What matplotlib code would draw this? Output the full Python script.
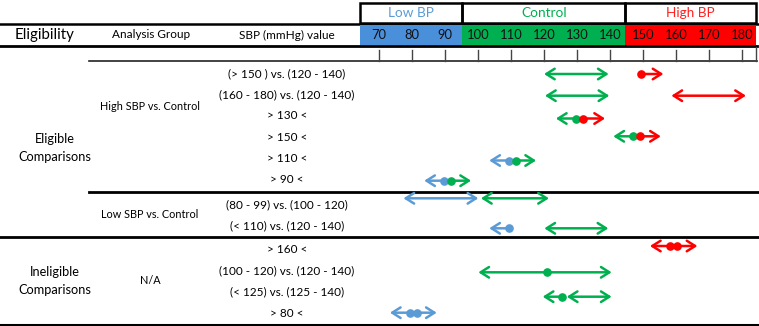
import matplotlib
matplotlib.use("Agg")
import matplotlib.pyplot as plt

plt.rcParams['font.family'] = ['Lato', 'DejaVu Sans']

# ---------------- data ----------------
tick_values = [70, 80, 90, 100, 110, 120, 130, 140, 150, 160, 170, 180]
band_names = ["Low BP", "Control", "High BP"]
band_ranges = [(64.2, 95.3), (95.3, 144.6), (144.6, 184.3)]

row_labels = ["(> 150 ) vs. (120 - 140)", "(160 - 180) vs. (120 - 140)", "> 130 <", "> 150 <",
              "> 110 <", "> 90 <", "(80 - 99) vs. (100 - 120)", "(< 110) vs. (120 - 140)",
              "> 160 <", "(100 - 120) vs. (120 - 140)", "(< 125) vs. (125 - 140)", "> 80 <"]
group_labels = ["High SBP vs. Control", "Low SBP vs. Control", "N/A"]
eligibility_labels = ["Eligible\nComparisons", "Ineligible\nComparisons"]

# segments: row, colour key, left, right, style ('both' / 'left' head only / 'right' head only)
seg_row = [0, 0, 1, 1, 2, 2, 3, 3, 4, 4, 5, 5, 6, 6, 7, 7, 8, 8, 9, 9, 10, 10, 11, 11]
seg_col = ['g', 'r', 'g', 'r', 'g', 'r', 'g', 'r', 'b', 'g', 'b', 'g', 'b', 'g', 'b', 'g',
           'r', 'r', 'g', 'g', 'g', 'g', 'b', 'b']
seg_left = [120, 150, 120.3, 158.6, 123.6, 131.7, 141.0, 149.1, 103.4, 111.4, 83.7, 91.8,
            77.4, 100.9, 103.4, 120.1, 152.1, 160.2, 100.1, 120.8, 119.6, 126.9, 73.3, 81.4]
seg_right = [139.6, 156.2, 139.8, 181.2, 129.7, 138.5, 147.1, 155.4, 109.4, 117.6, 89.8, 97.9,
             100.1, 121.5, 109.5, 139.5, 158.2, 166.5, 120.8, 140.5, 125.4, 140.5, 79.4, 87.5]
seg_style = ['both', 'right', 'both', 'both', 'left', 'right', 'left', 'right', 'left', 'right',
             'left', 'right', 'both', 'both', 'left', 'both', 'left', 'right', 'left', 'right',
             'left', 'both', 'left', 'right']

dot_row = [0, 2, 2, 3, 3, 4, 4, 5, 5, 7, 8, 8, 9, 10, 11, 11]
dot_col = ['r', 'g', 'r', 'g', 'r', 'b', 'g', 'b', 'g', 'b', 'r', 'r', 'g', 'g', 'b', 'b']
dot_x = [149.4, 129.7, 131.7, 147.1, 149.1, 109.4, 111.4, 89.8, 91.8, 109.5, 158.2, 160.2,
         120.8, 125.4, 79.4, 81.4]

# ---------------- layout / style ----------------
W, H = 759, 326
COL = {'b': '#5B9BD5', 'g': '#00B050', 'r': '#FF0000'}
BAND_COL = ['#4A8FDA', '#00B050', '#FF0000']
BAND_TXT = ['#5B9BD5', '#00B050', '#FF2020']
arrow_y = [74, 95.7, 118.5, 136.3, 160.5, 180.7, 198.3, 228.3, 246, 272.3, 296.7, 312.7]
label_y = [73.3, 94.3, 115.3, 137.3, 158.8, 179.3, 204.5, 226, 249.3, 270.7, 291.5, 313.3]
group_y = [106, 214, 280]
elig_y = [148, 281]

px0, px1 = 360, 759
sc = 3.30
v0 = 70 - (379 - px0) / sc
v1 = 70 + (px1 - 379) / sc

fig = plt.figure(figsize=(W / 100, H / 100), dpi=100)
bg = fig.add_axes([0, 0, 1, 1])
bg.set_xlim(0, W)
bg.set_ylim(H, 0)
bg.axis('off')

ax = fig.add_axes([px0 / W, 0, (px1 - px0) / W, 1], zorder=3)
ax.set_xlim(v0, v1)
ax.set_ylim(H, 0)
ax.axis('off')
ax.patch.set_alpha(0)

# header boxes
for (a, b), name, tc in zip(band_ranges, band_names, BAND_TXT):
    ax.add_patch(plt.Rectangle((a, 2.5), b - a, 20.5, fill=False, ec='black', lw=1.8,
                               clip_on=False))
    ax.text((a + b) / 2, 13, name, ha='center', va='center', color=tc, fontsize=9.8)
# colored band
for (a, b), c in zip(band_ranges, BAND_COL):
    ax.add_patch(plt.Rectangle((a, 24.5), b - a, 20.5, color=c, lw=0, clip_on=False))
for v in tick_values:
    ax.text(v, 35, str(v), ha='center', va='center', fontsize=9.4, color='#111111')
    ax.plot([v, v], [50, 61], color='#444444', lw=1.0, clip_on=False)
ax.plot([band_ranges[-1][1]] * 2, [47, 61], color='#444444', lw=1.0, clip_on=False)

# table lines
bg.plot([0, W], [23.5, 23.5], color='black', lw=1.8)
bg.plot([0, 757], [46, 46], color='black', lw=2.0)
bg.plot([89, 757], [61.3, 61.3], color='#222222', lw=1.2)
bg.plot([89, W], [192, 192], color='black', lw=2.0)
bg.plot([0, W], [236.7, 236.7], color='black', lw=2.0)
bg.plot([0, W], [324.5, 324.5], color='black', lw=2.2)

# header texts
bg.text(45, 35, "Eligibility", ha='center', va='center', fontsize=10.8)
bg.text(151, 35, "Analysis Group", ha='center', va='center', fontsize=8.5)
bg.text(287, 35, "SBP (mmHg) value", ha='center', va='center', fontsize=8.5)

for lab, y in zip(row_labels, label_y):
    bg.text(287, y, lab, ha='center', va='center', fontsize=8.5)
for lab, y in zip(group_labels, group_y):
    bg.text(150, y, lab, ha='center', va='center', fontsize=7.8)
for lab, y in zip(eligibility_labels, elig_y):
    bg.text(55, y, lab, ha='center', va='center', fontsize=9.2, linespacing=1.55)

# arrows
for r, c, a, b, st in zip(seg_row, seg_col, seg_left, seg_right, seg_style):
    y = arrow_y[r]
    style = {'both': '<->', 'left': '<-', 'right': '->'}[st]
    ax.annotate('', xy=(b, y), xytext=(a, y),
                arrowprops=dict(arrowstyle=style + ',head_length=0.6,head_width=0.38',
                                color=COL[c], lw=1.8, shrinkA=0, shrinkB=0,
                                mutation_scale=10))
for r, c, x in zip(dot_row, dot_col, dot_x):
    ax.plot([x], [arrow_y[r]], 'o', color=COL[c], ms=5.2, zorder=5)

fig.savefig('out.png', dpi=100)
